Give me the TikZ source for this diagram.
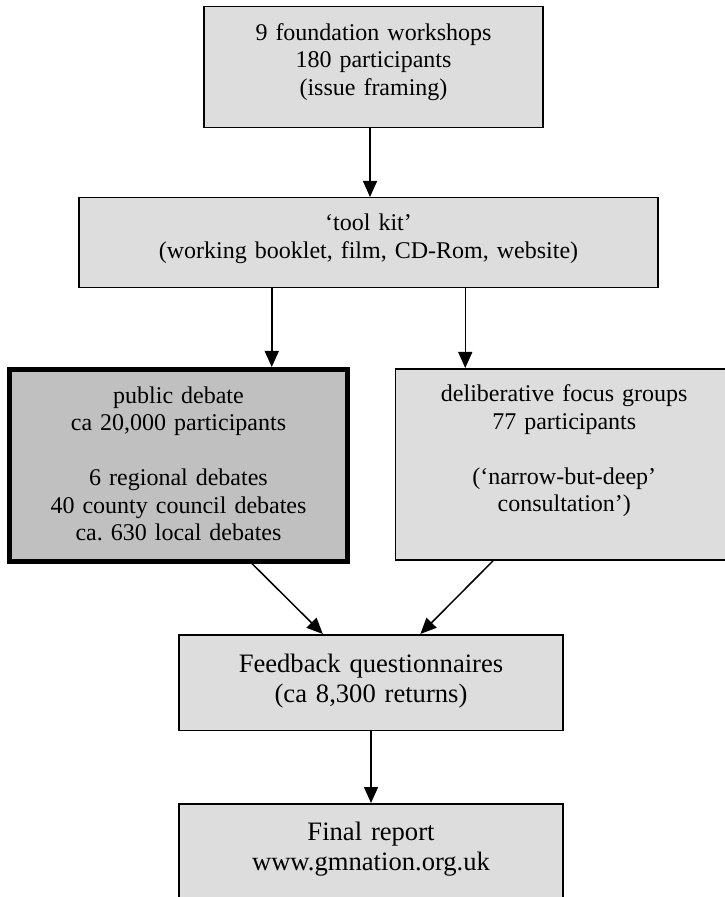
\documentclass[tikz,border=0pt]{standalone}
\usepackage{fontspec}
\setmainfont{Liberation Serif}
\usetikzlibrary{arrows.meta,calc}
\definecolor{boxgrey}{RGB}{221,221,221}
\definecolor{debategrey}{RGB}{192,192,192}
\tikzset{
  stage/.style={draw, fill=boxgrey, line width=0.75pt, anchor=north, align=center,
    inner xsep=0pt, inner ysep=0pt, font=\fontsize{12}{13.75}\selectfont},
  bigstage/.style={stage, font=\fontsize{13.3}{15}\selectfont},
  flow/.style={-{Triangle[width=7pt,length=8pt]}, line width=0.75pt}
}
\frenchspacing
\begin{document}
\begin{tikzpicture}[x=0.5pt, y=-0.5pt]
\useasboundingbox (0,0) rectangle (724,897);

\node[stage, text width=169.5pt, text height=16.65pt, text depth=43.85pt] (found) at (373.5, 6)
  {9 foundation workshops\\180 participants\\(issue framing)};
\node[stage, text width=289.5pt, text height=16.5pt, text depth=28.5pt] (toolkit) at (368.5, 197)
  {‘tool kit’\\(working booklet, film, CD-Rom, website)};

\node[stage, fill=debategrey, line width=2.5pt, text width=169pt, text height=16.75pt, text depth=79pt] (public) at (178.5, 367)
  {public debate\\ca 20,000 participants\\[13.75pt]6 regional debates\\40 county council debates\\ca.\ 630 local debates};
\node[stage, text width=168.75pt, text height=16.5pt, text depth=79.15pt] (focus) at (564.25, 368)
  {deliberative focus groups\\77 participants\\[13.75pt](‘narrow-but-deep’\\consultation’)};

\node[bigstage, text width=192pt, text height=18.85pt, text depth=28.9pt] (feedback) at (371, 634)
  {Feedback questionnaires\\(ca 8,300 returns)};
\node[bigstage, text width=192pt, text height=18.5pt, text depth=30pt] (final) at (371, 803)
  {Final report\\www.gmnation.org.uk};

\coordinate (fd) at ([xshift=-1.75pt]found.south);
\coordinate (tl) at ($(toolkit.south west)!1/3!(toolkit.south east)$);
\coordinate (tr) at ($(toolkit.south west)!2/3!(toolkit.south east)$);

\draw[flow] (fd) -- (fd |- toolkit.north);
\draw[flow] (tl) -- (tl |- public.north);
\draw[flow] (tr) -- (tr |- focus.north);
\draw[flow] ($(public.south west)!0.714!(public.south east)$) -- ($(feedback.north west)!0.375!(feedback.north east)$);
\draw[flow] ($(focus.south west)!0.29!(focus.south east)$) -- ($(feedback.north west)!0.628!(feedback.north east)$);
\draw[flow] (feedback.south) -- (final.north);
\end{tikzpicture}
\end{document}
